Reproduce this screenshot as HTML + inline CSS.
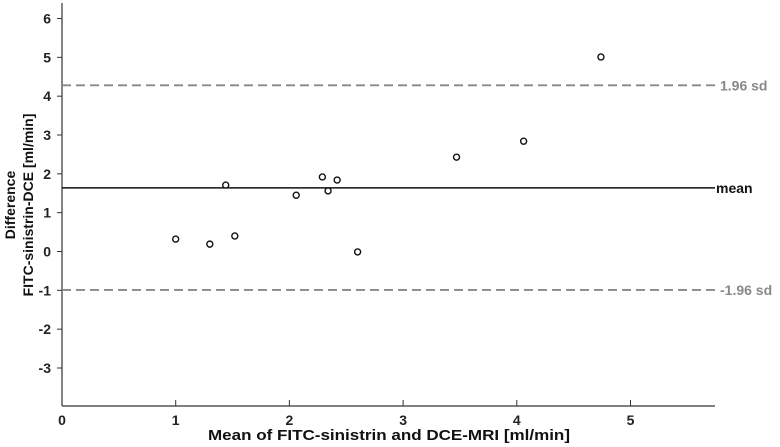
<!DOCTYPE html>
<html><head><meta charset="utf-8"><style>
body{margin:0;background:#fff}
svg{display:block;font-family:"Liberation Sans",Arial,sans-serif;font-weight:bold}
</style></head><body>
<svg id="c" width="780" height="447"></svg>
<script>
const xVals=[1.0,1.30,1.44,1.52,2.06,2.29,2.34,2.42,2.60,3.47,4.06,4.74];
const yVals=[0.32,0.19,1.71,0.40,1.45,1.92,1.56,1.84,-0.01,2.43,2.84,5.01];
const xTicks=[0,1,2,3,4,5];
const yTicks=[6,5,4,3,2,1,0,-1,-2,-3];
const meanVal=[1.64];
const sdVals=[4.28,-0.99];
const sdLabels=["1.96 sd","-1.96 sd"];
const NS="http://www.w3.org/2000/svg";
const svg=document.getElementById('c');
const X0=62,X1=715,Y0=3,Y1=406;
const sx=v=>X0+v*113.7;
const sy=v=>251.5-v*38.83;
function el(t,a,txt){const e=document.createElementNS(NS,t);for(const k in a)e.setAttribute(k,a[k]);if(txt!=null)e.textContent=txt;svg.appendChild(e);return e;}
let e;
e=el('line',{x1:X0,y1:Y0,x2:X0,y2:Y1,stroke:'#333','stroke-width':1.2});


e=el('line',{x1:X0,y1:Y1,x2:X1,y2:Y1,stroke:'#333','stroke-width':1.2});


yTicks.forEach(v=>{
 e=el('line',{x1:X0-5,y1:sy(v),x2:X0,y2:sy(v),stroke:'#333'});
 
 
 e=el('text',{x:X0-11,y:sy(v)+5,'text-anchor':'end','font-size':14,fill:'#222'},String(v));
 
 
});
xTicks.forEach(v=>{
 e=el('line',{x1:sx(v),y1:Y1,x2:sx(v),y2:Y1-6,stroke:'#333'});
 
 
 e=el('text',{x:sx(v),y:Y1+19,'text-anchor':'middle','font-size':14,fill:'#222'},String(v));
 
 
});
sdVals.forEach((v,i)=>{
 e=el('line',{x1:X0,y1:sy(v),x2:X1,y2:sy(v),stroke:'#888','stroke-width':1.8,'stroke-dasharray':'9,5'});
 
 
 e=el('text',{x:720,y:sy(v)+5,'font-size':14,fill:'#888'},sdLabels[i]);
 
 
});
e=el('line',{x1:X0,y1:sy(meanVal[0]),x2:X1,y2:sy(meanVal[0]),stroke:'#111','stroke-width':1.5});


e=el('text',{x:716,y:sy(meanVal[0])+5,'font-size':14,fill:'#111'},'mean');


xVals.forEach((v,i)=>{
 e=el('circle',{cx:sx(v),cy:sy(yVals[i]),r:3,fill:'#fff',stroke:'#111','stroke-width':1.4});
 
 
});
e=el('text',{x:208,y:440,'font-size':15,fill:'#111',textLength:362,lengthAdjust:'spacingAndGlyphs'},'Mean of FITC-sinistrin and DCE-MRI [ml/min]');


e=el('text',{x:0,y:0,'text-anchor':'middle','font-size':14,fill:'#111',transform:'translate(15,205) rotate(-90)'},'Difference');


e=el('text',{x:0,y:0,'text-anchor':'middle','font-size':14,fill:'#111',transform:'translate(33,205) rotate(-90)'},'FITC-sinistrin-DCE [ml/min]');


</script>
</body></html>
